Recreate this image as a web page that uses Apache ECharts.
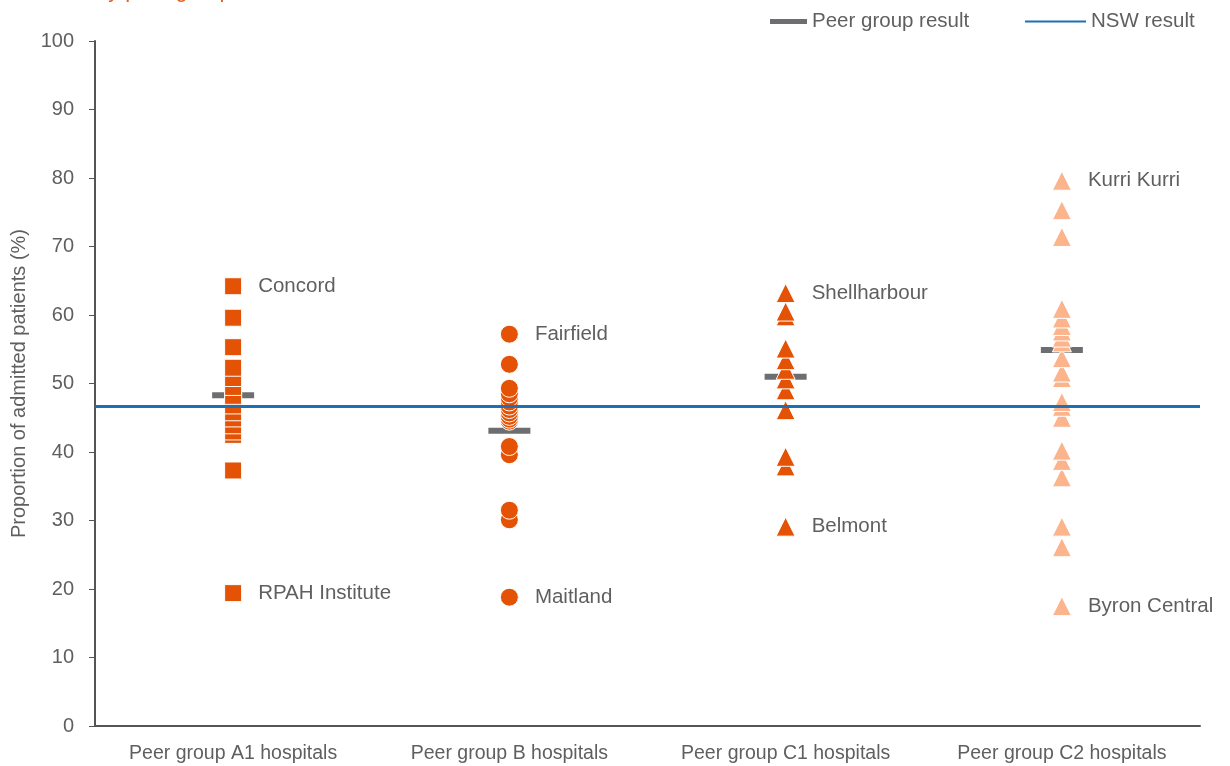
<!DOCTYPE html>
<html lang="en">

<head>
    <meta charset="UTF-8">
    <title>Admitted patients by peer group</title>
    <script src="https://cdn.jsdelivr.net/npm/echarts@6/dist/echarts.min.js"></script>
    <style>
        html, body { margin: 0; padding: 0; background: #fff; }
        #chart { width: 1230px; height: 766px; }
    </style>
</head>

<body>
    <div id="chart"></div>
    <script>
        // categories on the x axis
        var groups = ['Peer group A1 hospitals', 'Peer group B hospitals', 'Peer group C1 hospitals', 'Peer group C2 hospitals'];
        var yTicks = [0, 10, 20, 30, 40, 50, 60, 70, 80, 90, 100];

        // hospital results (%) per peer group
        var a1Values = [64.2, 59.6, 55.3, 52.3, 50.8, 49.5, 48.2, 46.8, 45.8, 44.9, 43.9, 43.0, 42.5, 37.3, 19.4];
        var bValues = [57.2, 52.8, 49.3, 48.5, 47.9, 47.3, 46.7, 46.2, 45.7, 45.2, 44.8, 44.5, 40.8, 39.6, 31.5, 30.1, 18.8];
        var c1Values = [63.2, 60.5, 59.8, 55.1, 53.4, 52.0, 50.6, 49.0, 46.1, 39.3, 37.9, 29.1];
        var c2Values = [79.6, 75.3, 71.4, 60.9, 59.5, 58.4, 57.6, 56.7, 56.0, 53.7, 51.6, 50.8, 47.3, 46.6, 45.0, 40.2, 38.7, 36.3, 29.1, 26.1, 17.5];

        // named hospitals [name, value]
        var a1Names = [['Concord', 64.2], ['RPAH Institute', 19.4]];
        var bNames = [['Fairfield', 57.2], ['Maitland', 18.8]];
        var c1Names = [['Shellharbour', 63.2], ['Belmont', 29.1]];
        var c2Names = [['Kurri Kurri', 79.6], ['Byron Central', 17.5]];

        var peerResults = [48.3, 43.1, 51.0, 54.9];
        var nswResult = 46.7;

        var orange = '#e35205';
        var light = '#fbb48c';
        var txt = '#5f5f5f';

        // build points; lower values drawn first so upper markers sit on top
        function points(cat, values, names) {
            return values.slice().sort(function (a, b) { return a - b; }).map(function (v) {
                var item = { value: [cat, v] };
                names.forEach(function (n) {
                    if (n[1] === v) {
                        item.name = n[0];
                        item.label = { show: true };
                    }
                });
                return item;
            });
        }

        function dots(name, cat, values, names, symbol, size, color) {
            return {
                name: name,
                type: 'scatter',
                z: 3,
                symbol: symbol,
                symbolSize: size,
                itemStyle: { color: color, borderColor: '#fff', borderWidth: 1, opacity: 1 },
                label: {
                    show: false,
                    position: 'right',
                    distance: 16,
                    formatter: '{b}',
                    color: txt,
                    fontSize: 20.5,
                    fontFamily: 'Liberation Sans'
                },
                emphasis: { disabled: true },
                data: points(cat, values, names)
            };
        }

        var myChart = echarts.init(document.getElementById('chart'));

        var option = {
            animation: false,
            textStyle: { fontFamily: 'Liberation Sans' },
            graphic: [{
                type: 'text',
                left: 96,
                top: -20,
                style: { text: 'by peer group,', fill: '#e8601c', font: '22px Liberation Sans' }
            }],
            legend: [{
                data: [{ name: 'Peer group result', icon: 'rect' }],
                left: 765,
                top: 6,
                itemWidth: 37,
                itemHeight: 5,
                textStyle: { color: txt, fontSize: 20.5 }
            }, {
                data: [{ name: 'NSW result', icon: 'rect' }],
                left: 1020,
                top: 6,
                itemWidth: 61,
                itemHeight: 2,
                textStyle: { color: txt, fontSize: 20.5 }
            }],
            grid: { left: 95, right: 30, top: 41, bottom: 40, containLabel: false, outerBoundsMode: 'none' },
            xAxis: {
                type: 'category',
                data: groups,
                axisLine: { lineStyle: { color: '#555', width: 2 } },
                axisTick: { interval: 0, length: 6, lineStyle: { color: '#555', width: 1 } },
                axisLabel: { interval: 0, hideOverlap: false, color: txt, fontSize: 19.5, margin: 18 }
            },
            yAxis: {
                type: 'value',
                min: yTicks[0],
                max: yTicks[yTicks.length - 1],
                interval: 10,
                name: 'Proportion of admitted patients (%)',
                nameLocation: 'middle',
                nameGap: 64,
                nameTextStyle: { color: txt, fontSize: 20 },
                splitLine: { show: false },
                axisLine: { show: true, lineStyle: { color: '#555', width: 2 } },
                axisTick: { show: true, length: 6, lineStyle: { color: '#555', width: 1 } },
                axisLabel: { color: txt, fontSize: 20, margin: 21 }
            },
            series: [{
                name: 'NSW result',
                type: 'line',
                z: 1,
                color: '#1f6fb5',
                data: [],
                markLine: {
                    silent: true,
                    symbol: 'none',
                    label: { show: false },
                    lineStyle: { color: '#1f6fb5', width: 3, type: 'solid' },
                    data: [{ yAxis: nswResult }]
                }
            }, {
                name: 'Peer group result',
                type: 'scatter',
                z: 2,
                symbol: 'rect',
                symbolSize: [42, 6],
                itemStyle: { color: '#6d6e71', opacity: 1 },
                emphasis: { disabled: true },
                data: peerResults.map(function (v, i) { return [groups[i], v]; })
            },
                dots('A1', groups[0], a1Values, a1Names, 'rect', 17, orange),
                dots('B', groups[1], bValues, bNames, 'circle', 18, orange),
                dots('C1', groups[2], c1Values, c1Names, 'triangle', 19, orange),
                dots('C2', groups[3], c2Values, c2Names, 'triangle', 19, light)
            ]
        };

        myChart.setOption(option);
    </script>
</body>

</html>
